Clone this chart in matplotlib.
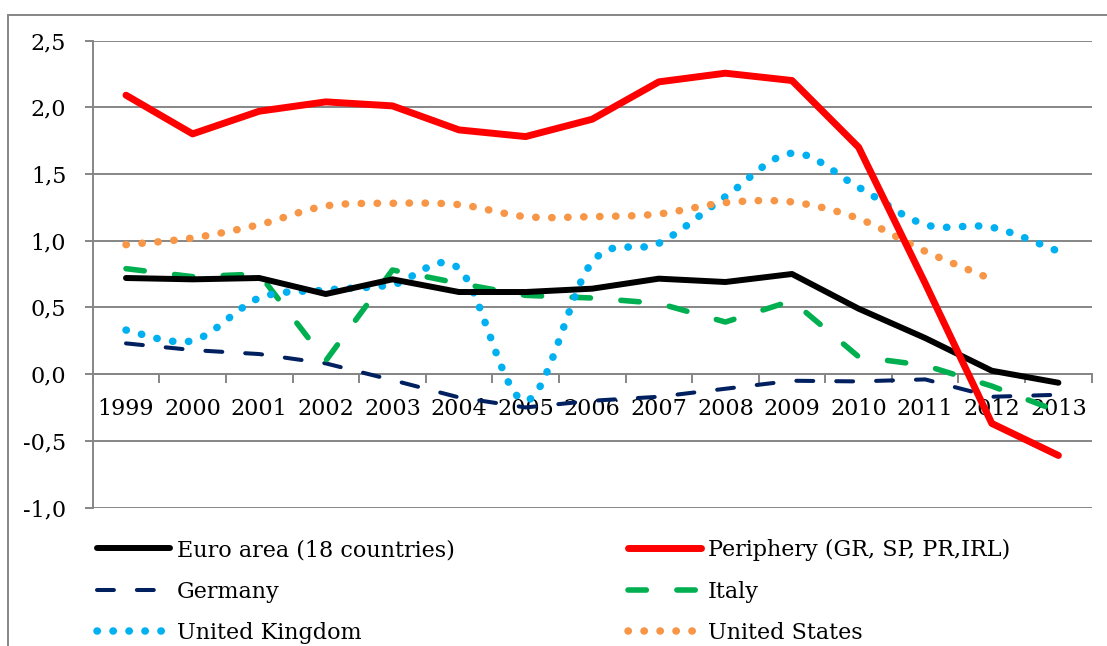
import numpy as np
import matplotlib
matplotlib.use('Agg')
import matplotlib.pyplot as plt
from matplotlib.path import Path
from matplotlib.patches import PathPatch, Rectangle
from matplotlib.lines import Line2D

years = [str(y) for y in range(1999, 2014)]

euro_area = [0.72, 0.71, 0.72, 0.60, 0.71, 0.615, 0.615, 0.64, 0.715, 0.69, 0.75, 0.49, 0.27, 0.025, -0.065]
periphery = [2.09, 1.80, 1.97, 2.04, 2.01, 1.83, 1.78, 1.91, 2.19, 2.255, 2.20, 1.70, 0.68, -0.37, -0.61]
germany = [0.23, 0.18, 0.15, 0.08, -0.045, -0.175, -0.25, -0.20, -0.17, -0.11, -0.05, -0.055, -0.04, -0.17, -0.155]
italy = [0.79, 0.73, 0.75, 0.10, 0.78, 0.68, 0.59, 0.57, 0.53, 0.39, 0.55, 0.13, 0.065, -0.09, -0.28]
uk = [0.33, 0.25, 0.57, 0.63, 0.67, 0.79, -0.20, 0.84, 0.98, 1.33, 1.655, 1.40, 1.12, 1.10, 0.92]
us = [0.97, 1.02, 1.12, 1.26, 1.28, 1.27, 1.18, 1.18, 1.20, 1.285, 1.29, 1.165, 0.92, 0.71]

GRID = '#868686'
FONT = 'DejaVu Serif'
plt.rcParams['font.family'] = FONT


def smooth_path(ys):
    # Excel-like smoothed line through the points (cubic bezier segments)
    pts = np.column_stack([np.arange(len(ys)), ys]).astype(float)
    n = len(pts)
    verts = [pts[0]]
    codes = [Path.MOVETO]
    for i in range(n - 1):
        p0 = pts[max(i - 1, 0)]
        p1 = pts[i]
        p2 = pts[i + 1]
        p3 = pts[min(i + 2, n - 1)]
        verts += [p1 + (p2 - p0) / 6, p2 - (p3 - p1) / 6, p2]
        codes += [Path.CURVE4] * 3
    return Path(verts, codes)


fig = plt.figure(figsize=(11.07, 6.46), dpi=100)
ax = fig.add_axes([92.7 / 1107, 1 - 507.5 / 646, 999 / 1107, 467 / 646])

x = np.arange(len(years))

styles = {
    'euro': dict(color='black', lw=4.3, solid_capstyle='round'),
    'per': dict(color='#FF0000', lw=5.0, solid_capstyle='round'),
    'ger': dict(color='#002060', lw=2.9, dashes=(4.2, 5.7), dash_capstyle='round'),
    'ita': dict(color='#00B050', lw=4.0, dashes=(3.3, 5.5), dash_capstyle='round'),
}

ax.plot(x, germany, **styles['ger'], zorder=3)
ax.plot(x, italy, **styles['ita'], zorder=3)

DOT_LW = 5.4
dot_ls = (0, (0.05, 2.08))
ax.add_patch(PathPatch(smooth_path(uk), fill=False, edgecolor='#00B0F0', lw=DOT_LW,
                       linestyle=dot_ls, capstyle='round', zorder=3))
ax.add_patch(PathPatch(smooth_path(us), fill=False, edgecolor='#F79646', lw=DOT_LW,
                       linestyle=dot_ls, capstyle='round', zorder=3))

ax.plot(x, euro_area, **styles['euro'], zorder=4)
ax.plot(x, periphery, **styles['per'], zorder=5)

ax.set_xlim(-0.5, len(years) - 0.5)
ax.set_ylim(-1.0, 2.5)

yt = np.arange(-1.0, 2.51, 0.5)
ax.set_yticks(yt)
ax.set_yticklabels([f'{v:.1f}'.replace('.', ',') for v in yt])
ax.yaxis.grid(True, color=GRID, lw=1.4)
ax.set_axisbelow(True)

ax.set_xticks(x)
ax.set_xticklabels(years)
ax.set_xticks(np.arange(-0.5, len(years), 1.0), minor=True)

for s in ['top', 'right']:
    ax.spines[s].set_visible(False)
ax.spines['left'].set_color(GRID)
ax.spines['left'].set_linewidth(1.4)
ax.spines['bottom'].set_position(('data', 0))
ax.spines['bottom'].set_color(GRID)
ax.spines['bottom'].set_linewidth(1.4)

ax.tick_params(axis='y', length=6, width=1.4, color=GRID, pad=13, labelsize=16)
ax.tick_params(axis='x', which='major', length=0, pad=17, labelsize=16)
ax.tick_params(axis='x', which='minor', length=6.5, width=1.4, color=GRID, direction='out')

# legend, two columns like the original
def proxy(key=None, color=None):
    if key:
        return Line2D([], [], **styles[key])
    return Line2D([], [], color=color, lw=DOT_LW, linestyle=dot_ls, dash_capstyle='round')

leg_kw = dict(frameon=False, loc='upper left', fontsize=16, handlelength=3.3,
              handletextpad=0.3, labelspacing=0.88, borderpad=0, borderaxespad=0)
leg1 = fig.legend([proxy('euro'), proxy('ger'), proxy(color='#00B0F0')],
                  ['Euro area (18 countries)', 'Germany', 'United Kingdom'],
                  bbox_to_anchor=(97 / 1107, 1 - 539 / 646), **leg_kw)
leg2 = fig.legend([proxy('per'), proxy('ita'), proxy(color='#F79646')],
                  ['Periphery (GR, SP, PR,IRL)', 'Italy', 'United States'],
                  bbox_to_anchor=(628 / 1107, 1 - 539 / 646), **leg_kw)

# outer chart border (clipped by the image edge on the right and bottom)
fig.add_artist(Rectangle((8 / 1107, -0.2), 1.2, 1.2 - 15 / 646, transform=fig.transFigure,
                         fill=False, edgecolor=GRID, lw=1.4))

fig.savefig('out.png', dpi=100)
